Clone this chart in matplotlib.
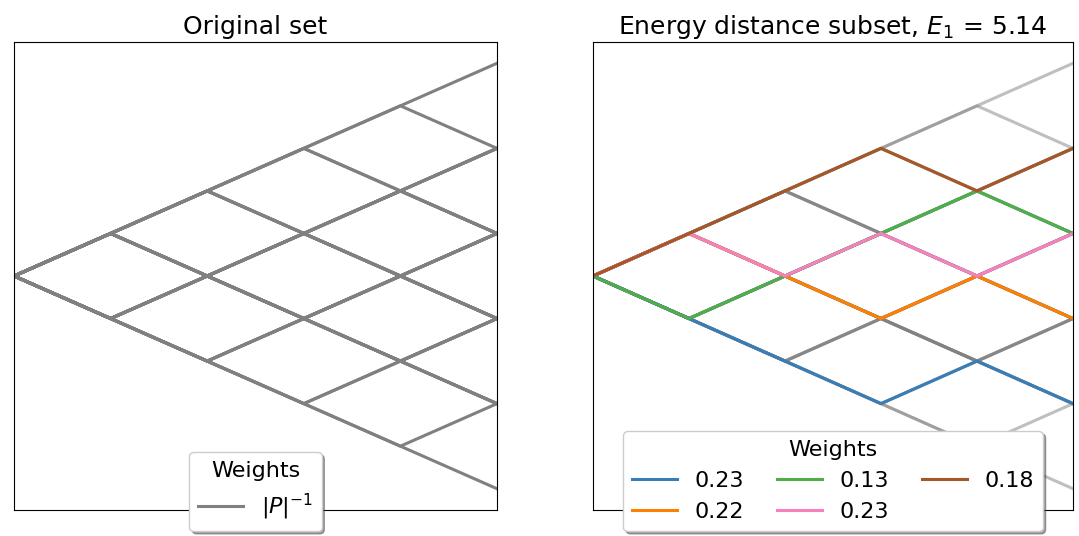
import itertools
import numpy as np
import matplotlib
matplotlib.use("Agg")
import matplotlib.pyplot as plt

# Data
n_steps = 5
times = list(range(n_steps + 1))
# All binomial paths of the original set (every +1/-1 step sequence)
all_steps = list(itertools.product([1, -1], repeat=n_steps))
original_paths = [np.concatenate([[0], np.cumsum(s)]) for s in all_steps]

subset_paths = [
    [0, -1, -2, -3, -2, -3],
    [0, 1, 0, -1, 0, -1],
    [0, -1, 0, 1, 2, 1],
    [0, 1, 0, 1, 0, 1],
    [0, 1, 2, 3, 2, 3],
]
subset_weights = ["0.23", "0.22", "0.13", "0.23", "0.18"]
subset_colors = ["#377eb8", "#ff7f00", "#4daf4a", "#f781bf", "#a65628"]
energy = 5.14

W, H = 1079, 536
fig = plt.figure(figsize=(W / 100, H / 100), dpi=100)
axL = fig.add_axes([14 / W, 1 - 510 / H, 483 / W, 468 / H])
axR = fig.add_axes([593 / W, 1 - 510 / H, 480 / W, 468 / H])

lw = 2.2
for i, p in enumerate(original_paths):
    axL.plot(times, p, color="gray", lw=lw, label=r"$|P|^{-1}$" if i == 0 else None)
    axR.plot(times, p, color="gray", lw=lw, alpha=0.5)

for p, w, c in zip(subset_paths, subset_weights, subset_colors):
    axR.plot(times, p, color=c, lw=lw, label=w)

for ax in (axL, axR):
    ax.set_xlim(0, n_steps)
    ax.set_ylim(-5.5, 5.5)
    ax.set_xticks([])
    ax.set_yticks([])

axL.set_title("Original set", fontsize=18)
axR.set_title(f"Energy distance subset, $E_1$ = {energy}", fontsize=18)

axL.legend(title="Weights", loc="lower center", bbox_to_anchor=(0.5, -0.045),
           borderaxespad=0, shadow=True, fontsize=16, title_fontsize=16)
axR.legend(title="Weights", loc="lower center", bbox_to_anchor=(0.5, -0.045),
           borderaxespad=0, shadow=True, ncol=3, fontsize=16, title_fontsize=16,
           columnspacing=1.5)

fig.savefig("out.png", dpi=100)
